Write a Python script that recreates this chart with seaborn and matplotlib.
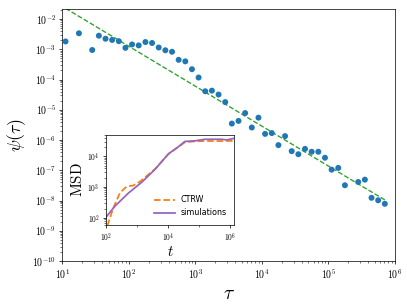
import numpy as np
import matplotlib
matplotlib.use("Agg")
import matplotlib.pyplot as plt
import seaborn as sns
from matplotlib.ticker import FuncFormatter, LogLocator, NullFormatter

# waiting-time distribution (binned)
tau = [11.2, 17.8, 28.2, 35.5, 44.7, 56.2, 70.8, 89.1, 112, 141, 178, 224,
       282, 355, 447, 562, 708, 891, 1122, 1413, 1778, 2239, 2818, 3548,
       4467, 5623, 7079, 8913, 11220, 14125, 17783, 22387, 28184, 35481,
       44668, 56234, 70795, 89125, 112202, 141254, 177828, 281838, 354813,
       446684, 562341, 707946]
psi = [1.82e-3, 3.39e-3, 9.5e-4, 2.82e-3, 2.24e-3, 2.04e-3, 1.86e-3, 1.12e-3,
       1.45e-3, 1.35e-3, 1.74e-3, 1.62e-3, 1.15e-3, 9.3e-4, 8.3e-4, 4.5e-4,
       4.0e-4, 2.2e-4, 1.17e-4, 4.1e-5, 4.3e-5, 3.2e-5, 1.8e-5, 3.5e-6,
       4.3e-6, 7.8e-6, 2.6e-6, 5.5e-6, 1.6e-6, 1.7e-6, 6.8e-7, 1.35e-6,
       4.3e-7, 3.4e-7, 5.1e-7, 4.1e-7, 4.1e-7, 2.6e-7, 1.05e-7, 1.2e-7,
       3.2e-8, 4.1e-8, 4.9e-8, 1.23e-8, 1.02e-8, 7.8e-9]

# power-law fit, end points
fit_tau = [11.2, 707946]
fit_psi = [2.27e-2, 1.05e-8]

# inset: mean squared displacement
t_sim = [100, 195, 525, 1445, 3890, 10470, 21880, 35480, 75860, 158500,
         549500, 794300, 1380000]
msd_sim = [105, 240, 631, 1445, 3800, 12000, 20400, 30200, 31600, 35500,
           35500, 33900, 38000]
t_ctrw = [110, 172, 282, 468, 759, 1259, 3890, 10470, 21880, 35480, 75860,
          158500, 549500, 1380000]
msd_ctrw = [55, 209, 646, 1047, 1122, 1510, 3900, 11800, 20000, 28500,
            30500, 31300, 31000, 31600]

plt.rcParams['mathtext.fontset'] = 'cm'
plt.rcParams['font.family'] = 'DejaVu Sans'

logfmt = FuncFormatter(lambda v, p: r'$10^{%d}$' % round(np.log10(v)))

fig = plt.figure(figsize=(407 / 64, 306 / 64), dpi=64)
ax = fig.add_axes([0.153, 0.147, 0.817, 0.8235])
ax.set_xscale('log')
ax.set_yscale('log')

sns.lineplot(x=fit_tau, y=fit_psi, ax=ax, color='#2ca02c', linestyle='--',
             linewidth=1.5)
sns.scatterplot(x=tau, y=psi, ax=ax, color='#1f77b4', s=45, edgecolor='none',
                zorder=3)

ax.set_xlim(10, 1e6)
ax.set_ylim(1e-10, 2.15e-2)
for axis in (ax.xaxis, ax.yaxis):
    axis.set_major_locator(LogLocator(base=10, numticks=20))
    axis.set_minor_locator(LogLocator(base=10, subs=np.arange(2, 10), numticks=20))
    axis.set_major_formatter(logfmt)
    axis.set_minor_formatter(NullFormatter())
ax.tick_params(labelsize=11)
ax.set_xlabel(r'$\tau$', fontsize=22)
ax.set_ylabel(r'$\psi(\tau)$', fontsize=20)

# inset
ins = fig.add_axes([0.2604, 0.2657, 0.3152, 0.2941])
ins.set_xscale('log')
ins.set_yscale('log')
sns.lineplot(x=t_ctrw, y=msd_ctrw, ax=ins, color='#ff7f0e', linestyle='--',
             linewidth=2, label='CTRW')
sns.lineplot(x=t_sim, y=msd_sim, ax=ins, color='#9467bd', linewidth=2,
             label='simulations')
ins.set_xlim(100, 1.4e6)
ins.set_ylim(60, 5e4)
ins.xaxis.set_major_locator(LogLocator(base=100, numticks=10))
ins.xaxis.set_minor_locator(LogLocator(base=10, numticks=10))
ins.yaxis.set_major_locator(LogLocator(base=10, numticks=10))
ins.yaxis.set_minor_locator(LogLocator(base=10, subs=np.arange(2, 10), numticks=10))
for axis in (ins.xaxis, ins.yaxis):
    axis.set_major_formatter(logfmt)
    axis.set_minor_formatter(NullFormatter())
ins.tick_params(labelsize=8.5)
ins.set_xlabel(r'$t$', fontsize=17, labelpad=0)
ins.set_ylabel(r'$\mathrm{MSD}$', fontsize=17, labelpad=2)
ins.legend(loc='lower right', frameon=False, handlelength=2.6,
           prop={'family': 'DejaVu Sans', 'size': 9})

fig.savefig('out.png', dpi=64)
